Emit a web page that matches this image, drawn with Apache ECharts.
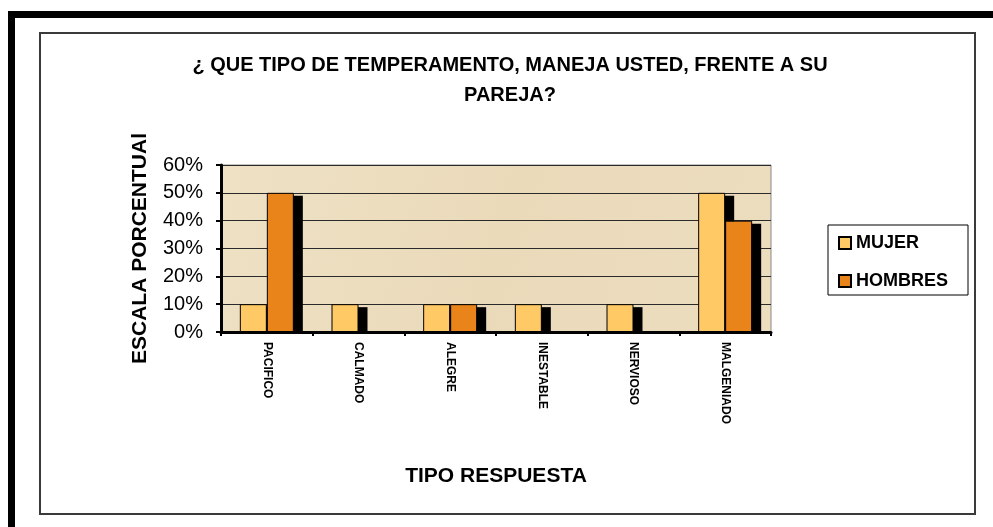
<!DOCTYPE html>
<html>
<head>
<meta charset="utf-8">
<script src="https://cdn.jsdelivr.net/npm/echarts@6/dist/echarts.min.js"></script>
<style>
  html, body { margin: 0; padding: 0; background: #fff; }
  #chart { width: 993px; height: 527px; }
</style>
</head>
<body>
<div id="chart"></div>
<script>
// datos
var categorias = ['PACIFICO', 'CALMADO', 'ALEGRE', 'INESTABLE', 'NERVIOSO', 'MALGENIADO'];
var mujer = [10, 10, 10, 10, 10, 50];
var hombres = [50, 0, 10, 0, 0, 40];
var yTicks = [0, 10, 20, 30, 40, 50, 60];

var ANCHO_BARRA = 27;
var SOMBRA_X = 9;
var SOMBRA_Y = 3;

var chart = echarts.init(document.getElementById('chart'), null, { renderer: 'canvas' });

// sombra negra de cada barra (estilo excel), dibujada debajo de las barras
function dibujarSombras(params, api) {
    var i = api.value(0);
    var base = api.coord([i, 0]);
    var hijos = [];
    var valores = [api.value(1), api.value(2)];
    for (var k = 0; k < valores.length; k++) {
        var v = valores[k];
        if (!v) continue;
        var arriba = api.coord([i, v])[1];
        var x = base[0] + (k === 0 ? -ANCHO_BARRA : 0) + SOMBRA_X;
        hijos.push({
            type: 'rect',
            shape: { x: x, y: arriba + SOMBRA_Y, width: ANCHO_BARRA, height: base[1] - arriba - SOMBRA_Y },
            style: { fill: '#000' }
        });
    }
    return { type: 'group', children: hijos };
}

var option = {
    backgroundColor: '#fff',
    animation: false,
    textStyle: { fontFamily: 'Liberation Sans, Arial, sans-serif' },
    title: {
        text: '¿ QUE TIPO DE TEMPERAMENTO, MANEJA USTED, FRENTE A SU\nPAREJA?',
        left: 505,
        top: 45,
        textAlign: 'center',
        textStyle: {
            fontSize: 20,
            fontWeight: 'bold',
            color: '#000',
            lineHeight: 30
        }
    },
    legend: {
        orient: 'vertical',
        left: 828,
        top: 225,
        padding: [9, 20, 5, 10],
        itemGap: 20,
        itemWidth: 12,
        itemHeight: 12,
        borderColor: '#000',
        borderWidth: 1,
        icon: 'rect',
        textStyle: { fontSize: 18, fontWeight: 'bold', color: '#000' },
        data: ['MUJER', 'HOMBRES']
    },
    grid: {
        left: 221,
        top: 165,
        width: 550,
        height: 167,
        show: true,
        backgroundColor: new echarts.graphic.LinearGradient(0, 0, 1, 1, [
            { offset: 0, color: '#EEE1C4' },
            { offset: 0.5, color: '#EADABA' },
            { offset: 1, color: '#ECDDBF' }
        ]),
        borderColor: '#8a8a8a',
        borderWidth: 1
    },
    xAxis: {
        type: 'category',
        data: categorias,
        name: 'TIPO RESPUESTA',
        nameLocation: 'middle',
        nameGap: 134,
        nameTextStyle: { fontSize: 21, fontWeight: 'bold', color: '#000' },
        axisLine: { lineStyle: { color: '#000', width: 3 } },
        axisTick: { show: true, length: 4, lineStyle: { color: '#000', width: 2 } },
        axisLabel: {
            rotate: -90,
            margin: 10,
            fontSize: 12,
            fontWeight: 'bold',
            color: '#000'
        }
    },
    yAxis: {
        type: 'value',
        min: 0,
        max: 60,
        interval: 10,
        name: 'ESCALA PORCENTUAl',
        nameLocation: 'middle',
        nameGap: 70,
        nameRotate: 90,
        nameTextStyle: { fontSize: 21, fontWeight: 'bold', color: '#000' },
        axisLine: { show: true, lineStyle: { color: '#000', width: 3 } },
        axisTick: { show: true, length: 5, lineStyle: { color: '#000', width: 2 } },
        axisLabel: {
            margin: 18,
            fontSize: 20,
            color: '#000',
            formatter: function (v) {
                return yTicks.indexOf(v) >= 0 ? v + '%' : '';
            }
        },
        splitLine: { lineStyle: { color: '#2a2a2a', width: 1 } }
    },
    series: [
        {
            name: 'sombra',
            type: 'custom',
            renderItem: dibujarSombras,
            data: categorias.map(function (c, i) { return [i, mujer[i], hombres[i]]; }),
            encode: { x: 0, y: [1, 2] },
            silent: true
        },
        {
            name: 'MUJER',
            type: 'bar',
            data: mujer,
            barWidth: ANCHO_BARRA,
            barGap: '0%',
            itemStyle: { color: '#FFC966', borderColor: '#000', borderWidth: 1 }
        },
        {
            name: 'HOMBRES',
            type: 'bar',
            data: hombres,
            barWidth: ANCHO_BARRA,
            barGap: '0%',
            itemStyle: { color: '#E9841A', borderColor: '#000', borderWidth: 1 }
        }
    ],
    graphic: [
        // marco negro exterior (arriba e izquierda)
        { type: 'rect', shape: { x: 8, y: 11, width: 985, height: 7 }, style: { fill: '#000' }, z: 100 },
        { type: 'rect', shape: { x: 8, y: 11, width: 7, height: 516 }, style: { fill: '#000' }, z: 100 },
        // marco del area del grafico
        {
            type: 'rect',
            shape: { x: 40, y: 33, width: 935, height: 481 },
            style: { fill: 'none', stroke: '#3a3a3a', lineWidth: 2 },
            z: 100
        }
    ]
};

chart.setOption(option);
</script>
</body>
</html>
